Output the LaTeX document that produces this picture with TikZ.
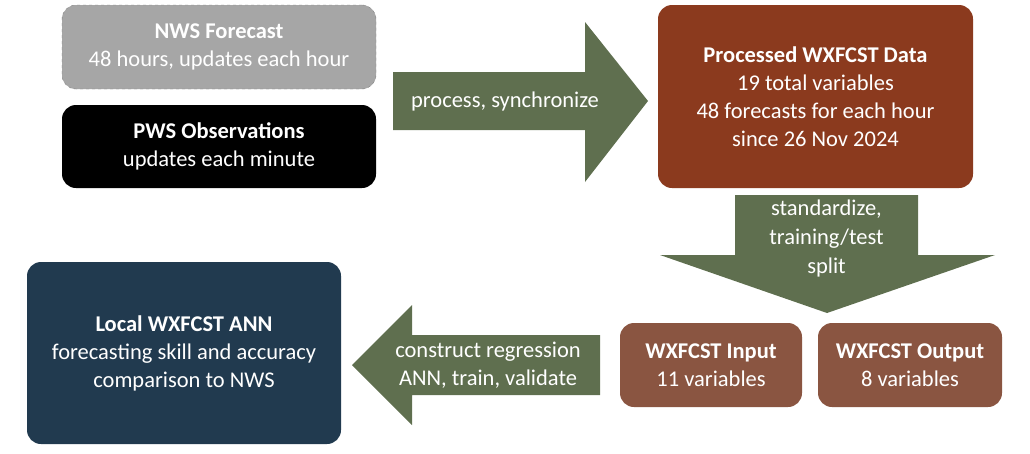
\documentclass[tikz,border=0pt]{standalone}
\usepackage{fontspec}
\setmainfont{Carlito}
\usetikzlibrary{positioning}
\definecolor{nwsgray}{HTML}{A6A6A6}
\definecolor{arrowgreen}{HTML}{5F6F4F}
\definecolor{procbrown}{HTML}{8B3A1E}
\definecolor{iobrown}{HTML}{8A5541}
\definecolor{annblue}{HTML}{213A4F}
\tikzset{
  box/.style={rounded corners=14pt, text=white, align=center,
    font=\fontsize{22.5}{28}\selectfont, inner sep=0pt},
  arrowlabel/.style={text=white, align=center, font=\fontsize{22.5}{28}\selectfont}
}
\begin{document}
\begin{tikzpicture}[x=1pt,y=-1pt]
  \useasboundingbox (0,0) rectangle (1030,453);

  %% source boxes
  \node[box, fill=nwsgray, draw=gray, dashed, minimum width=314pt, minimum height=84pt]
    (nws) at (219,47) {\textbf{NWS Forecast}\\48 hours, updates each hour};
  \node[box, fill=black, minimum width=314pt, minimum height=83pt]
    (pws) at (219,146.5) {\textbf{PWS Observations}\\updates each minute};

  %% process arrow
  \fill[arrowgreen] (393,72) -- (585,72) -- (585,22) -- (648,101)
    -- (585,182) -- (585,130) -- (393,130) -- cycle;
  \node[arrowlabel] (proc) at (505,101) {process, synchronize};

  \node[box, fill=procbrown, minimum width=315pt, minimum height=183pt]
    (data) at (815.5,96.5) {\textbf{Processed WXFCST Data}\\19 total variables\\
      48 forecasts for each hour\\since 26 Nov 2024};

  %% split arrow
  \fill[arrowgreen] (735,195) -- (918,195) -- (918,255) -- (995,255)
    -- (827,313) -- (660,255) -- (735,255) -- cycle;
  \node[arrowlabel, font=\fontsize{22.5}{29}\selectfont] (split) at (826.5,238)
    {standardize,\\training/test\\split};

  \node[box, fill=iobrown, minimum width=182pt, minimum height=84pt]
    (input) at (711,365) {\textbf{WXFCST Input}\\11 variables};
  \node[box, fill=iobrown, minimum width=184pt, minimum height=84pt]
    (output) at (910,365) {\textbf{WXFCST Output}\\8 variables};

  %% training arrow
  \fill[arrowgreen] (600,335) -- (412,335) -- (412,305) -- (352,365)
    -- (412,425) -- (412,395) -- (600,395) -- cycle;
  \node[arrowlabel] (train) at (488,365) {construct regression\\ANN, train, validate};

  \node[box, fill=annblue, minimum width=314pt, minimum height=182pt]
    (ann) at (184,353) {\textbf{Local WXFCST ANN}\\forecasting skill and accuracy\\
      comparison to NWS};
\end{tikzpicture}
\end{document}
